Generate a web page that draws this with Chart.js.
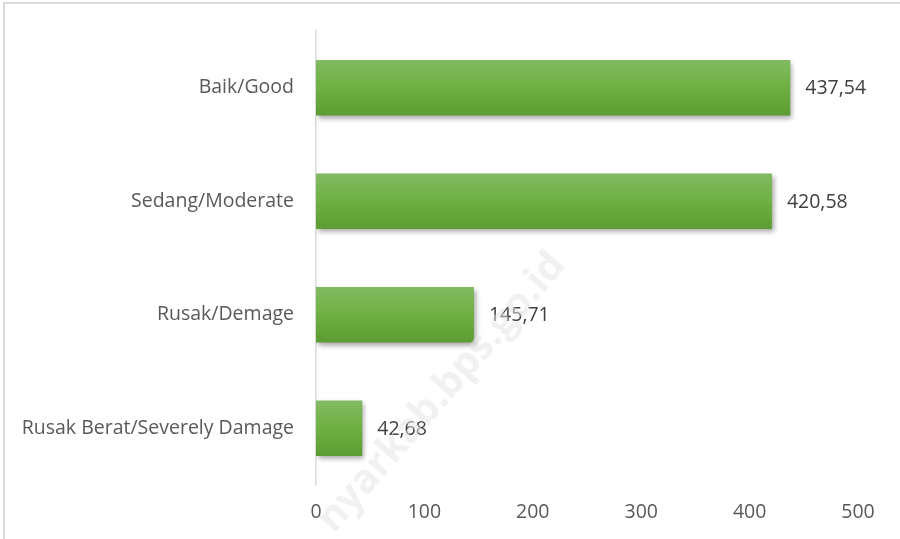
<!DOCTYPE html>
<html>
<head>
<meta charset="utf-8">
<script src="https://cdn.jsdelivr.net/npm/chart.js@4"></script>
<style>
  html, body { margin: 0; padding: 0; background: #fff; overflow: hidden; }
</style>
</head>
<body>
<canvas id="c" width="900" height="539"></canvas>
<script>
const categories = ['Baik/Good', 'Sedang/Moderate', 'Rusak/Demage', 'Rusak Berat/Severely Damage'];
const lengths = [437.54, 420.58, 145.71, 42.68];
const xTicks = [0, 100, 200, 300, 400, 500];

const FONT = '"Open Sans", sans-serif';
const BAR_SHARE = 0.49;

function barGradient(context) {
  const chart = context.chart;
  const y = chart.scales.y;
  const cy = y ? y.getPixelForValue(context.dataIndex) : NaN;
  if (!isFinite(cy) || !isFinite(y.bottom - y.top)) return '#70ad47';
  const band = (y.bottom - y.top) / categories.length;
  const half = band * BAR_SHARE / 2;
  const g = chart.ctx.createLinearGradient(0, cy - half, 0, cy + half);
  g.addColorStop(0, '#82ba63');
  g.addColorStop(0.5, '#6fb041');
  g.addColorStop(1, '#5c9c32');
  return g;
}

const framePlugin = {
  id: 'frame',
  beforeDraw(chart) {
    const ctx = chart.ctx;
    ctx.save();
    ctx.strokeStyle = '#dadada';
    ctx.lineWidth = 2;
    ctx.beginPath();
    ctx.moveTo(4, 539);
    ctx.lineTo(4, 3);
    ctx.lineTo(900, 3);
    ctx.stroke();
    ctx.restore();
  }
};

const shadowPlugin = {
  id: 'barShadow',
  beforeDatasetsDraw(chart) {
    const ctx = chart.ctx;
    ctx.save();
    ctx.shadowColor = 'rgba(0,0,0,0.35)';
    ctx.shadowBlur = 5;
    ctx.shadowOffsetX = 2;
    ctx.shadowOffsetY = 3;
  },
  afterDatasetsDraw(chart) {
    chart.ctx.restore();
  }
};

const valueLabels = {
  id: 'valueLabels',
  afterDatasetsDraw(chart) {
    const ctx = chart.ctx;
    const meta = chart.getDatasetMeta(0);
    ctx.save();
    ctx.font = '19.5px ' + FONT;
    ctx.fillStyle = '#404040';
    ctx.textAlign = 'left';
    ctx.textBaseline = 'middle';
    meta.data.forEach((bar, i) => {
      const txt = lengths[i].toFixed(2).replace('.', ',');
      ctx.fillText(txt, bar.x + 15, bar.y + 1);
    });
    ctx.restore();
  }
};

const watermark = {
  id: 'watermark',
  afterDraw(chart) {
    const ctx = chart.ctx;
    ctx.save();
    ctx.translate(334, 534);
    ctx.rotate(-49 * Math.PI / 180);
    ctx.font = 'bold 40px ' + FONT;
    ctx.textBaseline = 'alphabetic';
    ctx.fillStyle = 'rgba(228,228,228,0.5)';
    ctx.fillText('nyarkab.bps.go.id', 0, 0);
    ctx.restore();
  }
};

new Chart(document.getElementById('c'), {
  type: 'bar',
  data: {
    labels: categories,
    datasets: [{
      data: lengths,
      backgroundColor: barGradient,
      borderWidth: 0,
      barPercentage: 0.98,
      categoryPercentage: 0.5
    }]
  },
  options: {
    indexAxis: 'y',
    responsive: false,
    animation: false,
    layout: { padding: { top: 31, right: 42, left: 0, bottom: 0 } },
    plugins: {
      legend: { display: false },
      tooltip: { enabled: false }
    },
    scales: {
      x: {
        min: 0,
        max: 500,
        afterBuildTicks(scale) { scale.ticks = xTicks.map(v => ({ value: v })); },
        grid: { display: false, drawTicks: false },
        border: { display: false },
        ticks: { color: '#595959', font: { family: FONT, size: 19.5 }, padding: 16 },
        afterFit(scale) { scale.height = 54; }
      },
      y: {
        grid: { display: false, drawTicks: false },
        border: { display: true, color: '#d9d9d9', width: 1.5 },
        ticks: { color: '#595959', font: { family: FONT, size: 19.5 }, padding: 22 },
        afterFit(scale) {
          scale.width = 316;
          scale.paddingTop = 0;
          scale.paddingBottom = 0;
        }
      }
    }
  },
  plugins: [framePlugin, shadowPlugin, valueLabels, watermark]
});
</script>
</body>
</html>
